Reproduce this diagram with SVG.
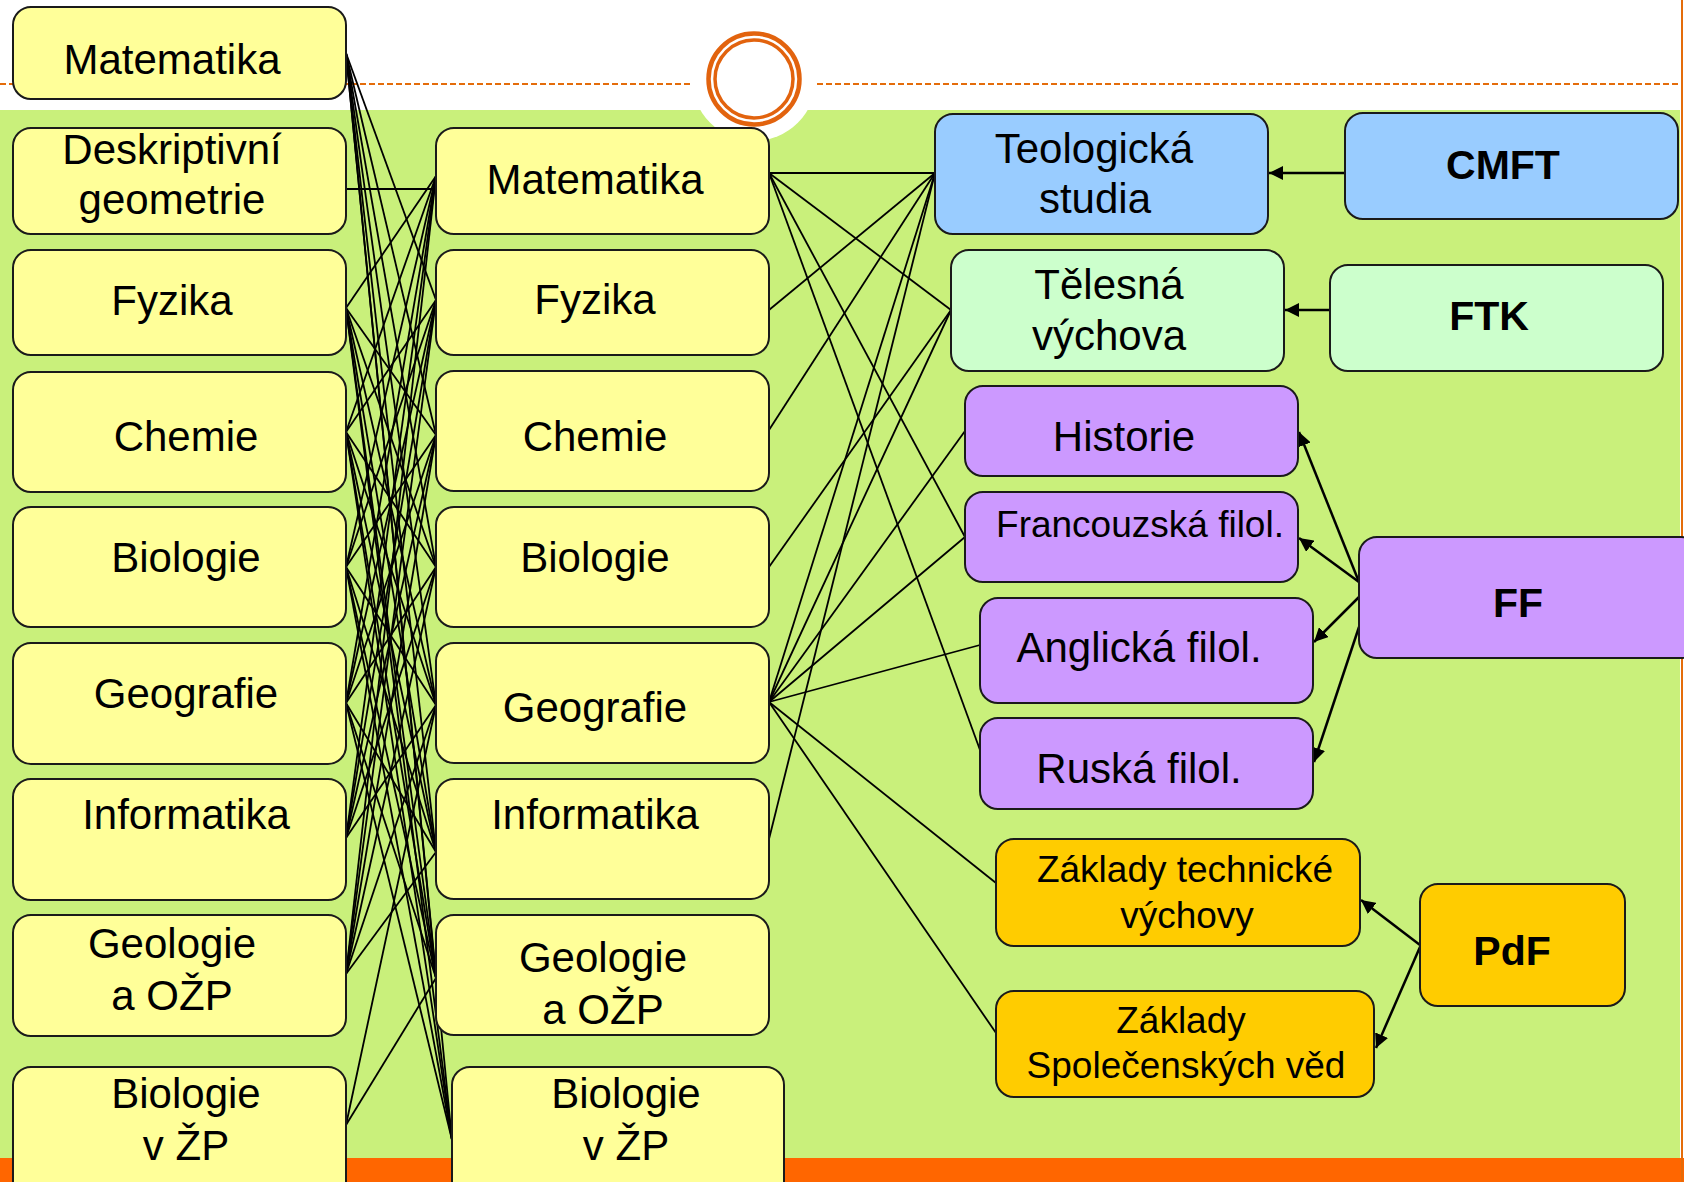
<svg xmlns="http://www.w3.org/2000/svg" width="1684" height="1182" viewBox="0 0 1684 1182">
<defs>
<style>
.y{fill:#FFFF99;stroke:#1a1a1a;stroke-width:2}
.b{fill:#99CCFF;stroke:#1a1a1a;stroke-width:2}
.g{fill:#CCFFCC;stroke:#1a1a1a;stroke-width:2}
.p{fill:#CC99FF;stroke:#1a1a1a;stroke-width:2}
.o{fill:#FFCC00;stroke:#1a1a1a;stroke-width:2}
text{font-family:"Liberation Sans",Arial,sans-serif;font-size:42px;fill:#000;text-anchor:middle}
.s{font-size:37px}
.bd{font-weight:bold;font-size:41px}
.c line{stroke:#000;stroke-width:1.8}
.a line{stroke:#000;stroke-width:2.5;marker-end:url(#ah)}
</style>
<marker id="ah" markerUnits="userSpaceOnUse" markerWidth="16" markerHeight="14" refX="14" refY="7" orient="auto">
<path d="M0,0 L14,7 L0,14 z" fill="#000"/>
</marker>
</defs>
<rect x="0" y="0" width="1684" height="1182" fill="#fff"/>
<rect x="0" y="110" width="1680" height="1048" fill="#C9F07B"/>
<rect x="0" y="1158" width="1684" height="24" fill="#FF6600"/>
<line x1="1682" y1="0" x2="1682" y2="1182" stroke="#E46C0A" stroke-width="2"/>
<line x1="0" y1="84" x2="690" y2="84" stroke="#E46C0A" stroke-width="2" stroke-dasharray="6,3"/>
<line x1="817" y1="84" x2="1680" y2="84" stroke="#E46C0A" stroke-width="2" stroke-dasharray="6,3"/>
<circle cx="754" cy="79" r="62" fill="#fff"/>
<circle cx="754" cy="79" r="45.5" fill="none" stroke="#E2630E" stroke-width="4.5"/>
<circle cx="754" cy="79" r="39" fill="none" stroke="#E2630E" stroke-width="3.5"/>

<g id="connectors">
<g class="c">
<line x1="346" y1="53" x2="436" y2="300"/>
<line x1="346" y1="53" x2="436" y2="435"/>
<line x1="346" y1="53" x2="436" y2="567"/>
<line x1="346" y1="53" x2="436" y2="705"/>
<line x1="346" y1="53" x2="436" y2="852"/>
<line x1="346" y1="53" x2="436" y2="978"/>
<line x1="346" y1="53" x2="452" y2="1140"/>
<line x1="346" y1="189" x2="436" y2="189"/>
<line x1="346" y1="308" x2="436" y2="176"/>
<line x1="346" y1="308" x2="436" y2="435"/>
<line x1="346" y1="308" x2="436" y2="567"/>
<line x1="346" y1="308" x2="436" y2="705"/>
<line x1="346" y1="308" x2="436" y2="852"/>
<line x1="346" y1="308" x2="436" y2="978"/>
<line x1="346" y1="308" x2="452" y2="1140"/>
<line x1="346" y1="432" x2="436" y2="176"/>
<line x1="346" y1="432" x2="436" y2="300"/>
<line x1="346" y1="432" x2="436" y2="567"/>
<line x1="346" y1="432" x2="436" y2="705"/>
<line x1="346" y1="432" x2="436" y2="852"/>
<line x1="346" y1="432" x2="436" y2="978"/>
<line x1="346" y1="432" x2="452" y2="1140"/>
<line x1="346" y1="567" x2="436" y2="176"/>
<line x1="346" y1="567" x2="436" y2="300"/>
<line x1="346" y1="567" x2="436" y2="435"/>
<line x1="346" y1="567" x2="436" y2="705"/>
<line x1="346" y1="567" x2="436" y2="852"/>
<line x1="346" y1="567" x2="436" y2="978"/>
<line x1="346" y1="567" x2="452" y2="1140"/>
<line x1="346" y1="703" x2="436" y2="176"/>
<line x1="346" y1="703" x2="436" y2="300"/>
<line x1="346" y1="703" x2="436" y2="435"/>
<line x1="346" y1="703" x2="436" y2="567"/>
<line x1="346" y1="703" x2="436" y2="852"/>
<line x1="346" y1="703" x2="436" y2="978"/>
<line x1="346" y1="703" x2="452" y2="1140"/>
<line x1="346" y1="838" x2="436" y2="176"/>
<line x1="346" y1="838" x2="436" y2="300"/>
<line x1="346" y1="838" x2="436" y2="435"/>
<line x1="346" y1="838" x2="436" y2="567"/>
<line x1="346" y1="838" x2="436" y2="705"/>
<line x1="346" y1="974" x2="436" y2="176"/>
<line x1="346" y1="974" x2="436" y2="300"/>
<line x1="346" y1="974" x2="436" y2="435"/>
<line x1="346" y1="974" x2="436" y2="567"/>
<line x1="346" y1="974" x2="436" y2="705"/>
<line x1="346" y1="974" x2="436" y2="852"/>
<line x1="346" y1="1125" x2="436" y2="705"/>
<line x1="346" y1="1125" x2="436" y2="978"/>
<line x1="769" y1="173" x2="935" y2="173"/>
<line x1="769" y1="173" x2="951" y2="310"/>
<line x1="769" y1="173" x2="965" y2="537"/>
<line x1="769" y1="173" x2="980" y2="750"/>
<line x1="769" y1="310" x2="935" y2="173"/>
<line x1="769" y1="430" x2="935" y2="173"/>
<line x1="769" y1="567" x2="951" y2="310"/>
<line x1="769" y1="702" x2="935" y2="173"/>
<line x1="769" y1="702" x2="951" y2="310"/>
<line x1="769" y1="702" x2="965" y2="431"/>
<line x1="769" y1="702" x2="965" y2="537"/>
<line x1="769" y1="702" x2="980" y2="645"/>
<line x1="769" y1="702" x2="996" y2="883"/>
<line x1="769" y1="702" x2="996" y2="1033"/>
<line x1="769" y1="839" x2="935" y2="173"/>
</g>
<g class="a">
<line x1="1345" y1="173" x2="1269" y2="173"/>
<line x1="1330" y1="310" x2="1285" y2="310"/>
<line x1="1359" y1="582" x2="1299" y2="432"/>
<line x1="1359" y1="582" x2="1299" y2="538"/>
<line x1="1359" y1="597" x2="1314" y2="642"/>
<line x1="1359" y1="627" x2="1314" y2="762"/>
<line x1="1420" y1="945" x2="1361" y2="900"/>
<line x1="1420" y1="947" x2="1376" y2="1048"/>
</g>
</g>

<g id="L1"><rect class="y" x="13" y="7" width="333" height="92" rx="18"/><text x="172" y="74">Matematika</text></g>
<g id="L2"><rect class="y" x="13" y="128" width="333" height="106" rx="18"/><text x="172" y="164">Deskriptivní</text><text x="172" y="214">geometrie</text></g>
<g id="L3"><rect class="y" x="13" y="250" width="333" height="105" rx="18"/><text x="172" y="315">Fyzika</text></g>
<g id="L4"><rect class="y" x="13" y="372" width="333" height="120" rx="18"/><text x="186" y="451">Chemie</text></g>
<g id="L5"><rect class="y" x="13" y="507" width="333" height="120" rx="18"/><text x="186" y="572">Biologie</text></g>
<g id="L6"><rect class="y" x="13" y="643" width="333" height="121" rx="18"/><text x="186" y="708">Geografie</text></g>
<g id="L7"><rect class="y" x="13" y="779" width="333" height="121" rx="18"/><text x="186" y="829">Informatika</text></g>
<g id="L8"><rect class="y" x="13" y="915" width="333" height="121" rx="18"/><text x="172" y="958">Geologie</text><text x="172" y="1010">a OŽP</text></g>
<g id="L9"><rect class="y" x="13" y="1067" width="333" height="135" rx="18"/><text x="186" y="1108">Biologie</text><text x="186" y="1160">v ŽP</text></g>

<g id="M1"><rect class="y" x="436" y="128" width="333" height="106" rx="18"/><text x="595" y="194">Matematika</text></g>
<g id="M2"><rect class="y" x="436" y="250" width="333" height="105" rx="18"/><text x="595" y="314">Fyzika</text></g>
<g id="M3"><rect class="y" x="436" y="371" width="333" height="120" rx="18"/><text x="595" y="451">Chemie</text></g>
<g id="M4"><rect class="y" x="436" y="507" width="333" height="120" rx="18"/><text x="595" y="572">Biologie</text></g>
<g id="M5"><rect class="y" x="436" y="643" width="333" height="120" rx="18"/><text x="595" y="722">Geografie</text></g>
<g id="M6"><rect class="y" x="436" y="779" width="333" height="120" rx="18"/><text x="595" y="829">Informatika</text></g>
<g id="M7"><rect class="y" x="436" y="915" width="333" height="120" rx="18"/><text x="603" y="972">Geologie</text><text x="603" y="1024">a OŽP</text></g>
<g id="M8"><rect class="y" x="452" y="1067" width="332" height="135" rx="18"/><text x="626" y="1108">Biologie</text><text x="626" y="1160">v ŽP</text></g>

<g id="Teol"><rect class="b" x="935" y="114" width="333" height="120" rx="18"/><text x="1094" y="163">Teologická</text><text x="1095" y="213">studia</text></g>
<g id="CMFT"><rect class="b" x="1345" y="113" width="333" height="106" rx="18"/><text class="bd" x="1503" y="179">CMFT</text></g>
<g id="Telesna"><rect class="g" x="951" y="250" width="333" height="121" rx="18"/><text x="1109" y="299">Tělesná</text><text x="1109" y="350">výchova</text></g>
<g id="FTK"><rect class="g" x="1330" y="265" width="333" height="106" rx="18"/><text class="bd" x="1489" y="330">FTK</text></g>
<g id="Historie"><rect class="p" x="965" y="386" width="333" height="90" rx="18"/><text x="1124" y="451">Historie</text></g>
<g id="Francouzska"><rect class="p" x="965" y="492" width="333" height="90" rx="18"/><text class="s" x="1140" y="537">Francouzská filol.</text></g>
<g id="Anglicka"><rect class="p" x="980" y="598" width="333" height="105" rx="18"/><text x="1139" y="662">Anglická filol.</text></g>
<g id="Ruska"><rect class="p" x="980" y="718" width="333" height="91" rx="18"/><text x="1139" y="783">Ruská filol.</text></g>
<g id="FF"><rect class="p" x="1359" y="537" width="340" height="121" rx="18"/><text class="bd" x="1518" y="617">FF</text></g>
<g id="ZTV"><rect class="o" x="996" y="839" width="364" height="107" rx="18"/><text class="s" x="1185" y="882">Základy technické</text><text class="s" x="1187" y="928">výchovy</text></g>
<g id="ZSV"><rect class="o" x="996" y="991" width="378" height="106" rx="18"/><text class="s" x="1181" y="1033">Základy</text><text class="s" x="1186" y="1078">Společenských věd</text></g>
<g id="PdF"><rect class="o" x="1420" y="884" width="205" height="122" rx="18"/><text class="bd" x="1512" y="965">PdF</text></g>
</svg>
